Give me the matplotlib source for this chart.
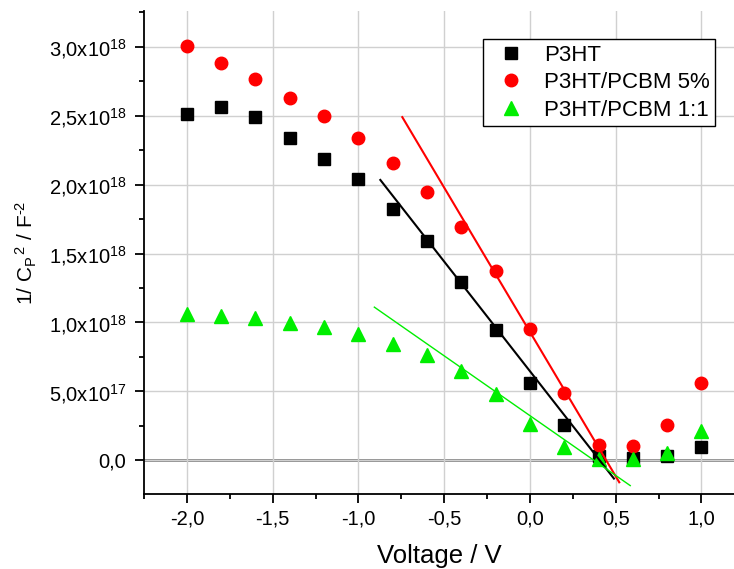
import numpy as np
import matplotlib as mpl
import matplotlib.pyplot as plt
from matplotlib.ticker import MultipleLocator, FuncFormatter

plt.rcParams['font.family'] = ['Liberation Sans', 'DejaVu Sans']
plt.rcParams['mathtext.fontset'] = 'custom'
plt.rcParams['mathtext.rm'] = 'Liberation Sans'
plt.rcParams['mathtext.it'] = 'Liberation Sans:italic'
plt.rcParams['mathtext.default'] = 'regular'

# data (units: 1e18 F^-2)
voltage = [-2.0, -1.8, -1.6, -1.4, -1.2, -1.0, -0.8, -0.6, -0.4, -0.2, 0.0, 0.2, 0.4, 0.6, 0.8, 1.0]
p3ht = [2.51, 2.56, 2.49, 2.34, 2.185, 2.04, 1.825, 1.59, 1.295, 0.945, 0.558, 0.253, 0.03, 0.018, 0.03, 0.094]
pcbm_5 = [3.005, 2.884, 2.765, 2.63, 2.5, 2.34, 2.16, 1.95, 1.695, 1.375, 0.955, 0.49, 0.107, 0.102, 0.255, 0.56]
pcbm_11 = [1.06, 1.05, 1.03, 0.995, 0.965, 0.915, 0.84, 0.763, 0.648, 0.48, 0.26, 0.095, 0.012, 0.008, 0.05, 0.21]

# linear fits (endpoints)
fit_p3ht_x = [-0.872, 0.49]
fit_p3ht_y = [2.034, -0.133]
fit_5_x = [-0.744, 0.521]
fit_5_y = [2.49, -0.16]
fit_11_x = [-0.907, 0.585]
fit_11_y = [1.111, -0.184]

scale = 1e18

fig = plt.figure(figsize=(7.34, 5.69), dpi=100)
ax = fig.add_axes([144 / 734, 1 - 494 / 569, 1 - 144 / 734, (494 - 11) / 569])

ax.grid(True, color='#d0d0d0', lw=1.0, zorder=0)
ax.axhline(0, color='#808080', lw=2.0, zorder=1)

v = np.array(voltage)
ax.plot(v, np.array(p3ht) * scale, 's', color='black', ms=8.2, mec='black', label='P3HT', zorder=3)
ax.plot(v, np.array(pcbm_5) * scale, 'o', color='red', ms=9.0, mec='red', label='P3HT/PCBM 5%', zorder=3)
ax.plot(v, np.array(pcbm_11) * scale, '^', color='#00ee00', ms=10, mec='#00ee00', label='P3HT/PCBM 1:1', zorder=3)

ax.plot(fit_p3ht_x, np.array(fit_p3ht_y) * scale, color='black', lw=1.5, zorder=4)
ax.plot(fit_5_x, np.array(fit_5_y) * scale, color='red', lw=1.5, zorder=4)
ax.plot(fit_11_x, np.array(fit_11_y) * scale, color='#00ee00', lw=1.0, zorder=4)

ax.set_xlim(-2.25, 1.19)
ax.set_ylim(-0.245e18, 3.26e18)

for s in ['top', 'right']:
    ax.spines[s].set_visible(False)
for s in ['left', 'bottom']:
    ax.spines[s].set_linewidth(1.3)

ax.xaxis.set_major_locator(MultipleLocator(0.5))
ax.xaxis.set_minor_locator(MultipleLocator(0.25))
ax.yaxis.set_major_locator(MultipleLocator(0.5e18))
ax.yaxis.set_minor_locator(MultipleLocator(0.25e18))
ax.tick_params(which='major', direction='out', length=6.3, width=1.3, labelsize=14.5, pad=6.5)
ax.tick_params(axis='x', which='major', pad=5)
ax.tick_params(which='minor', direction='out', length=3.6, width=1.3)


def xfmt(x, pos):
    return ('%.1f' % x).replace('.', ',')


def yfmt(y, pos):
    if abs(y) < 1:
        return '0,0'
    e = int(np.floor(np.log10(abs(y))))
    m = y / 10 ** e
    return ('%.1f' % m).replace('.', ',') + 'x10$^{%d}$' % e


ax.xaxis.set_major_formatter(FuncFormatter(xfmt))
ax.yaxis.set_major_formatter(FuncFormatter(yfmt))

ax.set_xlabel('Voltage / V', fontsize=18.5, labelpad=11)
ax.set_ylabel('1/ C$_P$$^{\\,2}$ / F$^{\\text{-}2}$', fontsize=15, labelpad=7)

leg = ax.legend(loc='upper right', bbox_to_anchor=(0.968, 0.942), fontsize=16, frameon=True,
                fancybox=False, edgecolor='black', framealpha=1, handletextpad=0.47,
                handlelength=2.0, borderpad=0.25, labelspacing=0.3, borderaxespad=0)
leg.get_frame().set_linewidth(1.0)

fig.savefig('out.png', dpi=100)
